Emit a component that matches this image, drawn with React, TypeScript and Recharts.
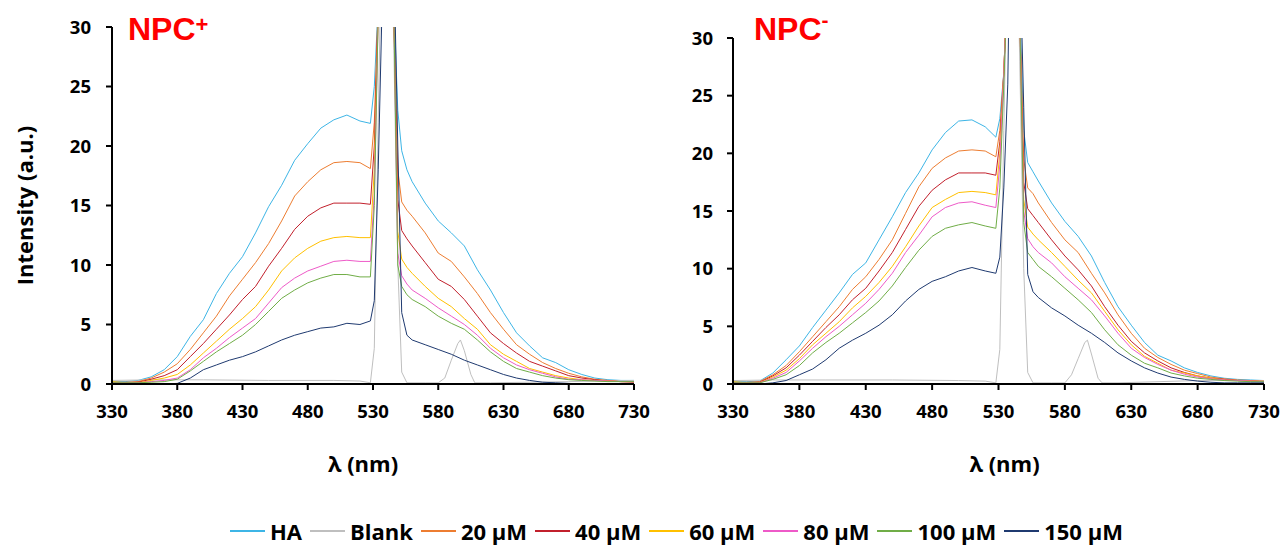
import { LineChart, Line, XAxis, YAxis } from "recharts";

// wavelength grid (nm) shared by the sample series
const wavelength = [
  330, 340, 350, 360, 370, 380, 390, 400, 410, 420, 430, 440, 450, 460, 470,
  480, 490, 500, 510, 520, 528, 531, 534, 537, 540, 543, 546, 549, 552, 556,
  560, 570, 580, 590, 600, 610, 620, 630, 640, 650, 660, 670, 680, 690, 700,
  710, 720, 730,
];
// the blank has its own grid (narrow bump near 597 nm)
const blankWavelength = [
  330, 360, 400, 450, 500, 520, 528, 531, 534, 537, 540, 543, 546, 549, 552,
  556, 570, 580, 585, 590, 595, 597, 600, 605, 608, 620, 680, 730,
];

// ---- NPC+ ----
const haPlus = [
  0.2, 0.2, 0.3, 0.6, 1.2, 2.3, 4.0, 5.4, 7.6, 9.3, 10.7, 12.7, 14.9, 16.7, 18.8,
  20.2, 21.5, 22.2, 22.6, 22.1, 21.9, 25, 32, 40, 50, 42, 32, 23, 19.6, 18.0,
  17.0, 15.2, 13.7, 12.7, 11.6, 9.6, 7.9, 6.0, 4.3, 3.2, 2.2, 1.8, 1.2, 0.8, 0.5,
  0.36, 0.3, 0.3,
];
const blankPlus = [
  0.3, 0.35, 0.35, 0.3, 0.3, 0.25, 0.1, 3, 22, 40, 55, 45, 28, 10, 1, 0.1, 0.1,
  0.1, 0.5, 2.0, 3.4, 3.7, 2.8, 0.8, 0.1, 0.1, 0.2, 0.3,
];
const um20Plus = [
  0.15, 0.15, 0.2, 0.5, 1.0, 1.7, 2.9, 4.3, 5.7, 7.4, 8.8, 10.2, 11.8, 13.7, 15.8,
  17.0, 18.0, 18.6, 18.7, 18.6, 18.1, 22, 32, 40, 50, 42, 31, 18, 15.3, 14.6,
  14.1, 12.7, 11.0, 10.3, 9.0, 7.6, 6.0, 4.6, 3.3, 2.5, 1.8, 1.3, 0.9, 0.6, 0.4,
  0.3, 0.2, 0.2,
];
const um40Plus = [
  0.1, 0.1, 0.15, 0.4, 0.7, 1.2, 2.3, 3.4, 4.6, 5.8, 7.1, 8.2, 9.9, 11.4, 13.0,
  14.1, 14.8, 15.2, 15.2, 15.2, 15.1, 20, 32, 40, 50, 42, 31, 15.5, 12.9, 12.2,
  11.6, 10.2, 8.8, 8.2, 7.1, 5.7, 4.3, 3.4, 2.6, 1.9, 1.5, 1.1, 0.7, 0.5, 0.36,
  0.25, 0.2, 0.15,
];
const um60Plus = [
  0.2, 0.1, 0.1, 0.3, 0.5, 0.8, 1.6, 2.6, 3.6, 4.6, 5.5, 6.5, 7.9, 9.5, 10.6,
  11.4, 12.0, 12.3, 12.4, 12.3, 12.3, 18, 31, 40, 50, 42, 31, 12.8, 10.5, 9.8,
  9.3, 8.2, 7.2, 6.5, 5.5, 4.6, 3.3, 2.5, 1.9, 1.3, 1.0, 0.7, 0.5, 0.36, 0.3,
  0.25, 0.2, 0.2,
];
const um80Plus = [
  0.1, 0.1, 0.1, 0.2, 0.3, 0.5, 1.2, 2.2, 3.0, 3.9, 4.7, 5.5, 6.8, 8.1, 8.9,
  9.5, 9.9, 10.3, 10.4, 10.3, 10.3, 16, 31, 40, 50, 42, 31, 11, 9.1, 8.4,
  7.9, 7.2, 6.4, 5.7, 5.0, 4.1, 3.0, 2.2, 1.6, 1.2, 0.9, 0.6, 0.4, 0.35, 0.3,
  0.25, 0.2, 0.2,
];
const um100Plus = [
  0.1, 0.1, 0.1, 0.15, 0.2, 0.4, 1.1, 1.9, 2.7, 3.4, 4.1, 5.0, 6.1, 7.2, 7.9,
  8.5, 8.9, 9.2, 9.2, 9.0, 9.0, 15, 31, 40, 50, 42, 31, 10, 8.2, 7.5,
  7.1, 6.5, 5.7, 5.1, 4.6, 3.7, 2.7, 1.9, 1.3, 1.0, 0.7, 0.5, 0.36, 0.3, 0.25,
  0.2, 0.2, 0.2,
];
const um150Plus = [
  0, 0, 0, 0, 0, 0.05, 0.5, 1.2, 1.6, 2.0, 2.3, 2.7, 3.2, 3.7, 4.1,
  4.4, 4.7, 4.8, 5.1, 5.0, 5.3, 7, 18, 32, 50, 45, 36, 20, 6, 4.1,
  3.7, 3.3, 2.9, 2.5, 2.0, 1.6, 1.2, 0.8, 0.5, 0.3, 0.15, 0.1, 0.05, 0, 0,
  0, 0, 0,
];

// ---- NPC- ----
const haMinus = [
  0.2, 0.2, 0.25, 0.95, 2.1, 3.3, 4.9, 6.4, 7.9, 9.5, 10.5, 12.5, 14.5, 16.6, 18.3,
  20.3, 21.8, 22.8, 22.9, 22.3, 21.4, 23, 27, 36, 50, 42, 33, 22, 19.2, 18.4,
  17.6, 15.7, 14.1, 12.8, 11.1, 8.8, 6.7, 5.1, 3.6, 2.5, 2.0, 1.4, 1.0, 0.7, 0.5,
  0.4, 0.35, 0.3,
];
const blankMinus = [
  0.3, 0.35, 0.35, 0.35, 0.3, 0.25, 0.1, 3, 22, 40, 55, 45, 28, 10, 1, 0.1, 0.1,
  0.1, 0.8, 2.2, 3.6, 3.8, 2.6, 0.5, 0.1, 0.1, 0.3, 0.3,
];
const um20Minus = [
  0.15, 0.15, 0.2, 0.8, 1.6, 2.8, 4.1, 5.4, 6.7, 8.2, 9.3, 10.8, 12.5, 14.8, 17.1,
  18.7, 19.6, 20.2, 20.3, 20.2, 19.7, 22, 27, 36, 50, 42, 32, 19.5, 17.0, 16.5,
  15.7, 14.0, 12.5, 11.4, 9.6, 7.9, 6.0, 4.4, 3.1, 2.3, 1.7, 1.2, 0.9, 0.6, 0.45,
  0.35, 0.3, 0.25,
];
const um40Minus = [
  0.1, 0.1, 0.15, 0.7, 1.4, 2.5, 3.7, 4.9, 6.0, 7.3, 8.3, 9.8, 11.4, 13.4, 15.4,
  16.8, 17.7, 18.3, 18.3, 18.3, 18.1, 21, 27, 36, 50, 42, 32, 17.5, 15.2, 14.6,
  14.0, 12.5, 11.1, 9.9, 8.5, 6.7, 5.1, 3.7, 2.7, 2.0, 1.4, 1.0, 0.7, 0.5, 0.4,
  0.3, 0.25, 0.2,
];
const um60Minus = [
  0.2, 0.1, 0.1, 0.6, 1.2, 2.2, 3.4, 4.4, 5.4, 6.6, 7.6, 8.8, 10.2, 11.9, 13.7,
  15.3, 16.0, 16.6, 16.7, 16.6, 16.4, 20, 27, 36, 50, 42, 32, 16, 13.6, 13.0,
  12.5, 11.4, 10.2, 9.0, 7.9, 6.3, 4.7, 3.4, 2.4, 1.8, 1.2, 0.95, 0.7, 0.5, 0.35,
  0.3, 0.25, 0.2,
];
const um80Minus = [
  0.1, 0.1, 0.1, 0.5, 1.0, 2.0, 3.1, 4.1, 5.0, 6.0, 7.0, 8.2, 9.6, 11.4, 12.9,
  14.5, 15.3, 15.7, 15.8, 15.5, 15.3, 19, 27, 36, 50, 42, 32, 15, 12.6, 11.9,
  11.4, 10.5, 9.3, 8.3, 7.3, 5.9, 4.4, 3.1, 2.3, 1.7, 1.2, 0.85, 0.6, 0.45, 0.35,
  0.3, 0.25, 0.2,
];
const um100Minus = [
  0.1, 0.1, 0.1, 0.4, 0.8, 1.6, 2.7, 3.6, 4.4, 5.3, 6.2, 7.2, 8.5, 10.1, 11.6,
  12.8, 13.5, 13.8, 14.0, 13.7, 13.5, 17, 26, 36, 50, 42, 32, 14, 11.4, 10.8,
  10.2, 9.3, 8.3, 7.3, 6.2, 4.7, 3.4, 2.5, 1.8, 1.4, 0.95, 0.7, 0.5, 0.4, 0.3,
  0.25, 0.2, 0.2,
];
const um150Minus = [
  0, 0, 0, 0.1, 0.3, 0.8, 1.3, 2.1, 3.1, 3.8, 4.4, 5.1, 6.0, 7.2, 8.2,
  8.9, 9.3, 9.8, 10.1, 9.8, 9.6, 11, 17, 26, 50, 45, 38, 24, 9.5, 8.0,
  7.5, 6.6, 5.9, 5.1, 4.4, 3.6, 2.7, 2.0, 1.4, 0.95, 0.6, 0.4, 0.25, 0.15, 0.1,
  0.1, 0.1, 0.1,
];

const seriesNames = ["HA", "Blank", "20 µM", "40 µM", "60 µM", "80 µM", "100 µM", "150 µM"];
const seriesKeys = ["ha", "blank", "c20", "c40", "c60", "c80", "c100", "c150"];
const seriesColors = ["#3db5e6", "#bfbfbf", "#ed7d31", "#c2202c", "#ffc000", "#ee5ac8", "#70ad47", "#1f3a70"];

const xTicks = [330, 380, 430, 480, 530, 580, 630, 680, 730];
const yTicks = [0, 5, 10, 15, 20, 25, 30];

const FONT = "'Open Sans', 'DejaVu Sans', sans-serif";

function buildRows(cols: Record<string, number[]>) {
  return wavelength.map((x, i) => {
    const row: Record<string, number> = { x };
    for (const k of Object.keys(cols)) row[k] = cols[k][i];
    return row;
  });
}

const plusRows = buildRows({
  ha: haPlus, c20: um20Plus, c40: um40Plus, c60: um60Plus,
  c80: um80Plus, c100: um100Plus, c150: um150Plus,
});
const minusRows = buildRows({
  ha: haMinus, c20: um20Minus, c40: um40Minus, c60: um60Minus,
  c80: um80Minus, c100: um100Minus, c150: um150Minus,
});
const plusBlank = blankWavelength.map((x, i) => ({ x, blank: blankPlus[i] }));
const minusBlank = blankWavelength.map((x, i) => ({ x, blank: blankMinus[i] }));

const tickStyle = { fill: "#000", fontSize: 18.5, fontWeight: "bold", fontFamily: FONT };
const axisStroke = { stroke: "#000", strokeWidth: 2 };

function Panel({
  left, width, top, rows, blankRows, showYLabel, xLabelDx, yTickMargin,
}: {
  left: number; width: number; top: number;
  rows: Record<string, number>[]; blankRows: { x: number; blank: number }[];
  showYLabel: boolean; xLabelDx: number; yTickMargin: number;
}) {
  return (
    <div style={{ position: "absolute", left, top: 0 }}>
      <LineChart width={width} height={490} data={rows}
        margin={{ top, right: 16, bottom: 50, left: 0 }}>
        <XAxis dataKey="x" type="number" domain={[330, 730]} ticks={xTicks}
          interval={0} allowDataOverflow height={56} tickSize={6} tickMargin={15}
          axisLine={axisStroke} tickLine={axisStroke} tick={tickStyle}
          label={{
            value: "λ (nm)", position: "bottom", offset: 16, dx: xLabelDx,
            fill: "#000", fontSize: 22, fontWeight: "bold", fontFamily: FONT,
          }} />
        <YAxis type="number" domain={[0, 30]} ticks={yTicks} interval={0}
          allowDataOverflow width={112} tickSize={6} tickMargin={yTickMargin}
          axisLine={axisStroke} tickLine={axisStroke} tick={tickStyle}
          label={showYLabel ? {
            value: "Intensity (a.u.)", angle: -90, position: "insideLeft", offset: 25,
            fill: "#000", fontSize: 22, fontWeight: "bold", fontFamily: FONT,
            style: { textAnchor: "middle" },
          } : undefined} />
        {seriesKeys.map((k, i) => (
          k === "blank" ? (
            <Line key={k} data={blankRows} dataKey="blank" type="linear"
              stroke={seriesColors[i]} strokeWidth={1} dot={false}
              isAnimationActive={false} />
          ) : (
            <Line key={k} dataKey={k} type="linear" stroke={seriesColors[i]}
              strokeWidth={1} dot={false} isAnimationActive={false} />
          )
        ))}
      </LineChart>
    </div>
  );
}

function PanelTitle({ left, sign, shift, size }: { left: number; sign: string; shift: number; size: number }) {
  return (
    <div style={{
      position: "absolute", left, top: 13, lineHeight: "32px", fontSize: 32,
      fontWeight: "bold", color: "#ff0000", fontFamily: "'Liberation Sans', Arial, sans-serif",
      whiteSpace: "nowrap",
    }}>
      NPC<span style={{ fontSize: size, position: "relative", top: shift }}>{sign}</span>
    </div>
  );
}

export default function App() {
  return (
    <div style={{ position: "absolute", left: 0, top: 0, width: 1285, height: 547, background: "#fff", overflow: "hidden" }}>
      <Panel left={0} width={650} top={27} rows={plusRows} blankRows={plusBlank}
        showYLabel xLabelDx={-10} yTickMargin={15} />
      <Panel left={621} width={659} top={38} rows={minusRows} blankRows={minusBlank}
        showYLabel={false} xLabelDx={6} yTickMargin={14} />
      <PanelTitle left={128} sign="+" shift={-8} size={22} />
      <PanelTitle left={754} sign="-" shift={-13} size={21} />
      <div style={{
        position: "absolute", left: 230, top: 520, height: 22, display: "flex",
        alignItems: "center", fontFamily: FONT, fontWeight: "bold", fontSize: 22,
        lineHeight: "22px", color: "#000", whiteSpace: "nowrap",
      }}>
        {seriesNames.map((name, i) => (
          <div key={name} style={{ display: "flex", alignItems: "center", marginRight: 8 }}>
            <div style={{ width: 35, height: 1.5, background: seriesColors[i], marginRight: 5 }} />
            <span>{name}</span>
          </div>
        ))}
      </div>
    </div>
  );
}
